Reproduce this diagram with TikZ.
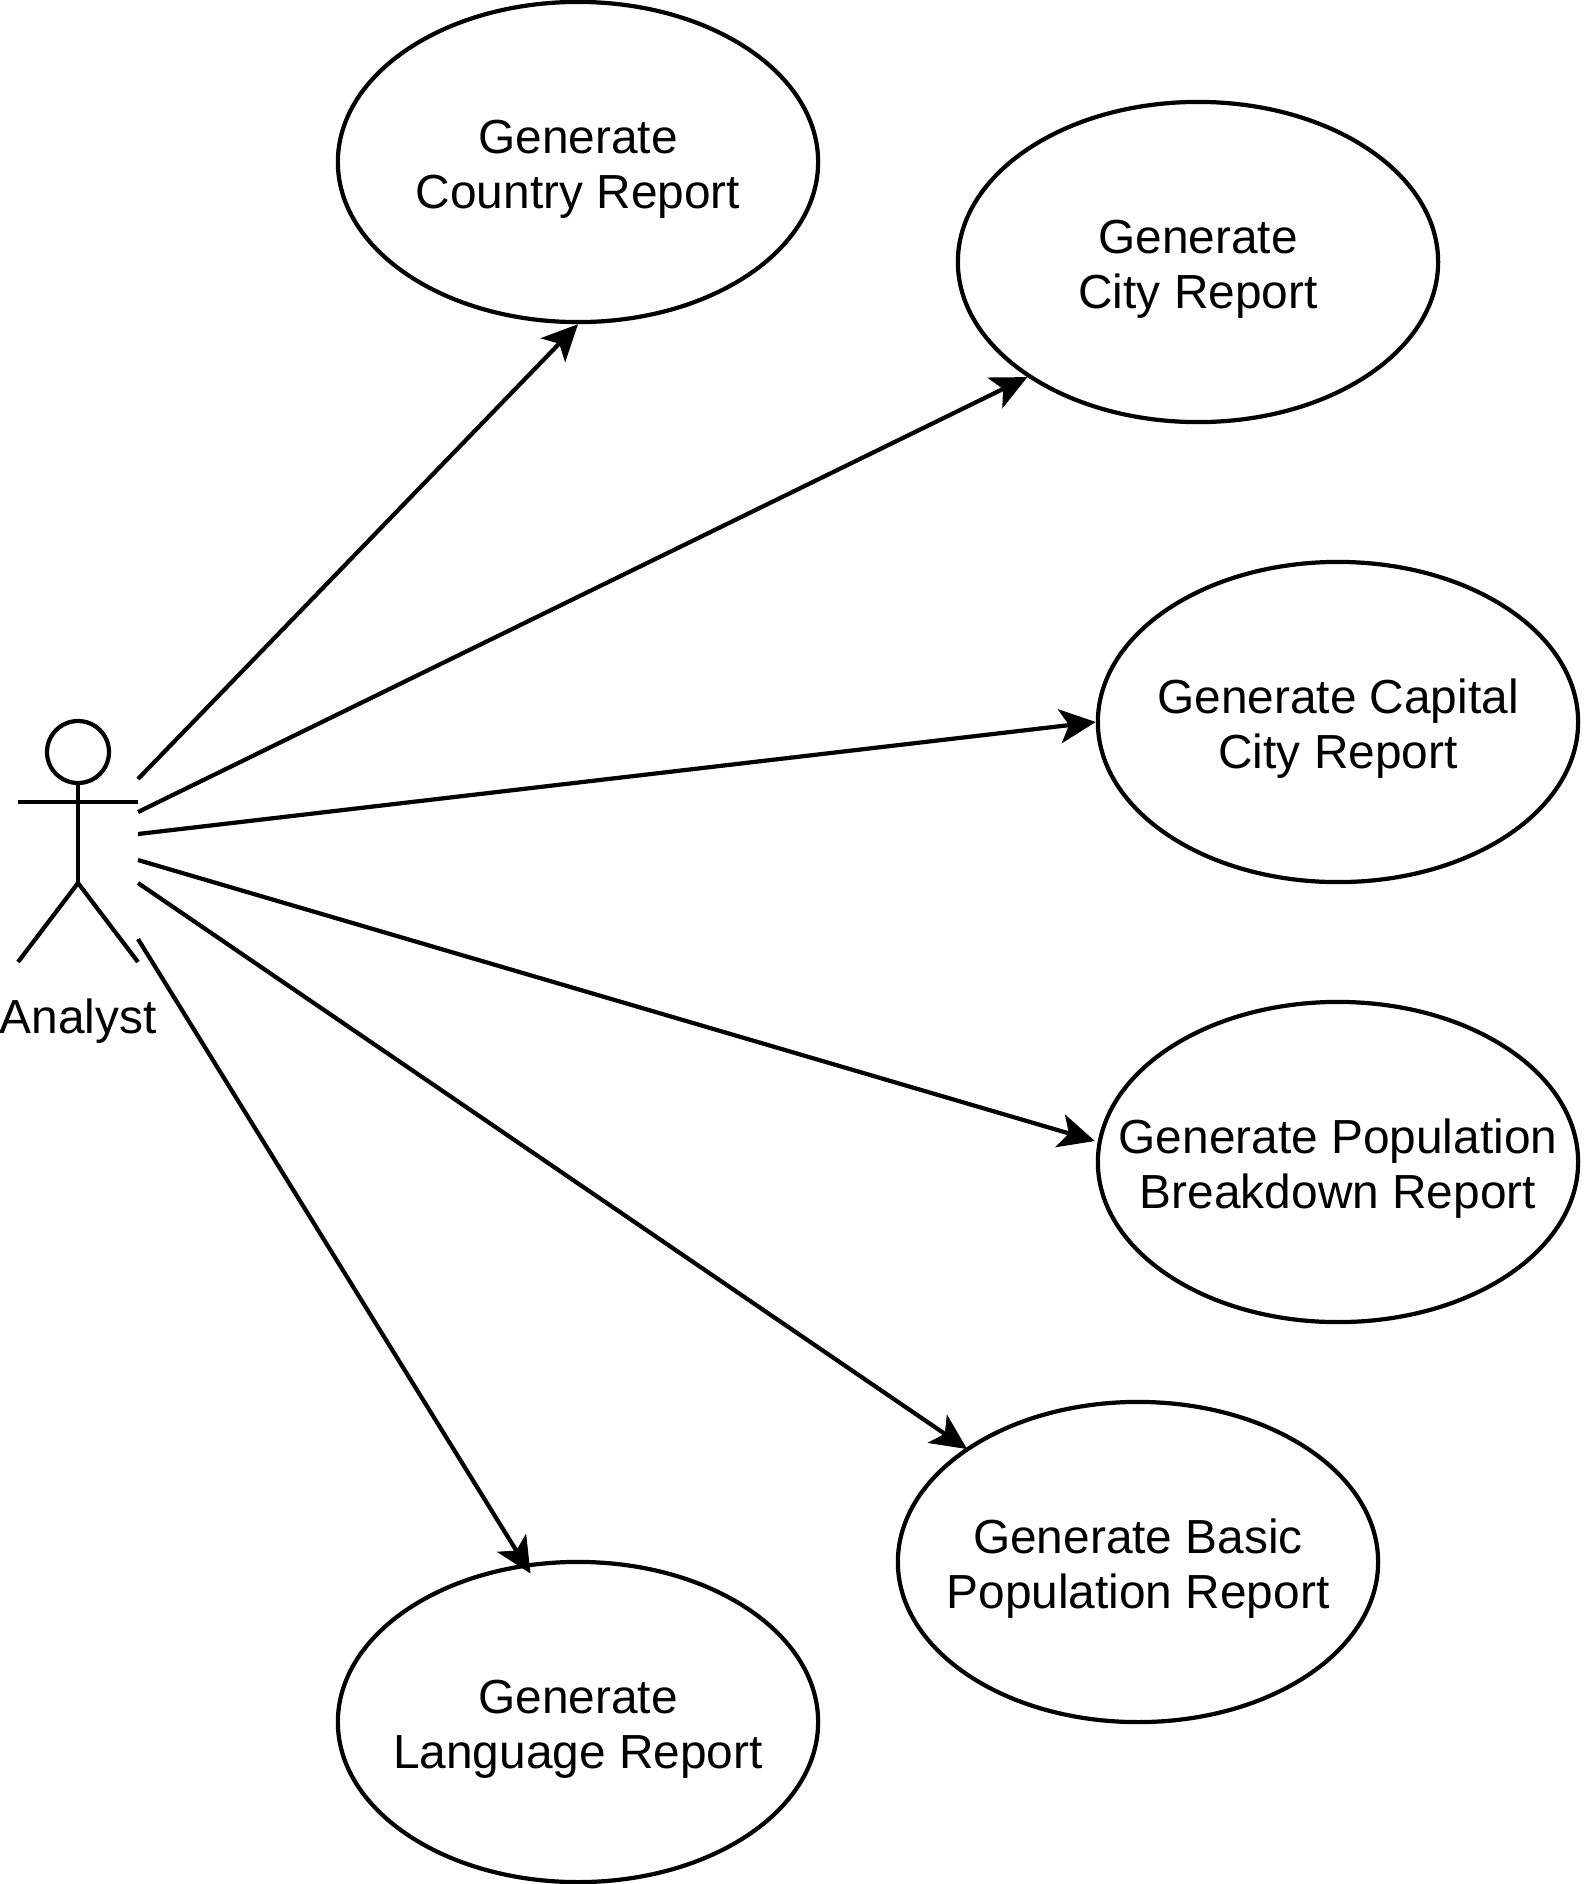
\documentclass[tikz,border=0pt]{standalone}
\usepackage{fontspec}
\setmainfont{Liberation Sans}
\usetikzlibrary{arrows.meta,shapes.geometric}

\begin{document}
\begin{tikzpicture}[
  x=0.01cm, y=-0.01cm,
  usecase/.style={draw, ellipse, line width=1.2pt, minimum width=4.8cm, minimum height=3.2cm, inner sep=-1.2cm, align=center, text height=29.7pt, text depth=3pt, font=\fontsize{13.6pt}{15.7pt}\selectfont},
  actorline/.style={line width=1.2pt},
  assoc/.style={line width=1.2pt, -{Stealth[length=0.36cm, width=0.34cm, inset=0.09cm]}}
]
\useasboundingbox (0,0) rectangle (1584,1884);
\node[usecase] (country) at (578,162) {Generate\\Country Report};
\node[usecase] (city) at (1198,262) {Generate\\City Report};
\node[usecase] (capital) at (1338,722) {Generate Capital\\City Report};
\node[usecase] (breakdown) at (1338,1162) {Generate Population\\Breakdown Report};
\node[usecase] (basic) at (1138,1562) {Generate Basic\\Population Report};
\node[usecase] (language) at (578,1722) {Generate\\Language Report};
% actor
\draw[actorline] (78,752) circle (31);
\coordinate (neck) at (78,783);
\coordinate (hip) at (78,883);
\draw[actorline] (neck) -- (hip);
\draw[actorline] (18,802) -- (138,802);
\draw[actorline] (18,962) -- (hip) -- (138,962);
\node[font=\fontsize{13.6pt}{15.7pt}\selectfont] (analyst) at (78,1021) {Analyst};
% free ends of the connectors
\coordinate (a1) at (138,779);
\coordinate (a2) at (138,812);
\coordinate (a3) at (138,834);
\coordinate (a4) at (138,860);
\coordinate (a5) at (138,883);
\coordinate (a6) at (138,939);
\draw[assoc] (a1) -- (country.south);
\draw[assoc] (a2) -- (city.214);
\draw[assoc] (a3) -- (capital.west);
\draw[assoc] (a4) -- ([xshift=-0.03cm]breakdown.175);
\draw[assoc] (a5) -- ([xshift=0.03cm]basic.147);
\draw[assoc] (a6) -- ([xshift=0.04cm,yshift=-0.1cm]language.108);
\end{tikzpicture}
\end{document}
